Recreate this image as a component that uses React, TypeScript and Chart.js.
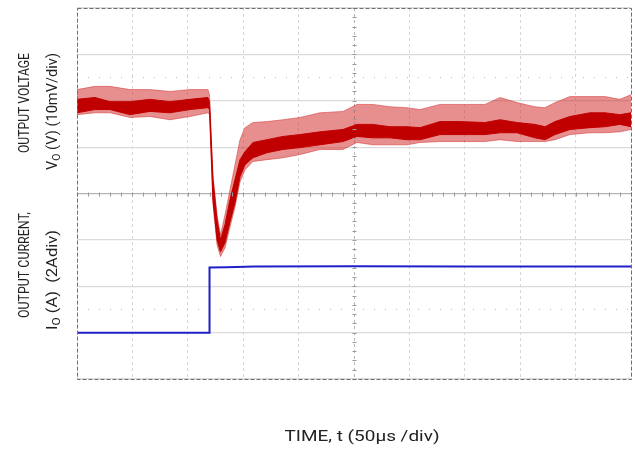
import React, { useEffect, useRef } from "react";
import { Chart, registerables } from "chart.js";

Chart.register(...registerables);

// Time axis: 50 µs/div, 10 divisions
const timeUs = [0, 16.2, 29.8, 47.8, 65.8, 83.9, 101.9, 118.2, 119.6, 122.7, 126.4, 129.5, 133.6, 138.1, 142.6, 147.1, 151.6, 158.8, 171.5, 185.9, 201.3, 219.3, 240.1, 252.7, 267.1, 282.5, 297.8, 309.6, 327.6, 345.7, 368.2, 381.8, 397.1, 413.3, 422.4, 431.4, 444.9, 462.9, 476.5, 490.0, 500];
// Output voltage deviation (mV), 10 mV/div: ripple envelope and dense core
const voltUpper = [2.4, 3.1, 3.1, 2.4, 2.4, 2.0, 2.4, 2.4, 1.3, -15.9, -24.6, -28.9, -24.6, -19.2, -13.8, -8.4, -5.8, -4.7, -4.5, -4.1, -3.6, -2.6, -2.3, -0.8, -0.8, -1.3, -1.5, -1.9, -0.8, -0.8, -0.8, 0.7, -0.4, -1.3, -1.5, -0.4, 0.9, 0.9, 0.9, 0.3, 1.3];
const voltCoreTop = [0.3, 0.7, -0.2, -0.2, 0.3, -0.2, 0.3, 0.7, -0.2, -17.0, -25.7, -30.0, -26.7, -21.3, -17.0, -12.7, -11.0, -9.0, -8.4, -7.7, -7.3, -6.7, -6.2, -5.1, -5.1, -5.6, -5.6, -5.8, -4.5, -4.5, -4.7, -4.1, -4.7, -5.1, -5.6, -4.5, -3.4, -2.6, -2.6, -3.0, -2.6];
const voltCoreBottom = [-2.6, -1.9, -1.9, -3.0, -2.3, -2.6, -1.9, -1.5, -1.9, -21.3, -30.0, -32.6, -30.6, -26.1, -22.0, -16.4, -13.8, -12.3, -11.2, -10.5, -10.1, -9.5, -8.8, -7.7, -8.0, -8.0, -8.4, -8.4, -7.3, -7.3, -7.3, -6.9, -6.9, -8.0, -8.4, -7.3, -6.2, -5.8, -5.6, -5.1, -5.6];
const voltLower = [-3.0, -2.6, -2.6, -3.6, -3.4, -4.1, -3.4, -2.6, -3.0, -22.4, -31.1, -33.6, -31.7, -27.2, -22.9, -17.5, -14.9, -13.1, -12.7, -12.3, -11.6, -10.5, -10.5, -9.0, -9.5, -9.5, -9.5, -9.0, -8.8, -8.8, -8.8, -8.4, -8.8, -8.8, -8.8, -8.4, -7.3, -6.9, -6.9, -6.7, -6.2];

// Output current (A), 2 A/div
const currentTimeUs = [0, 60, 119.5, 119.6, 135, 160, 250, 350, 450, 500];
const currentA = [0.0, 0.0, 0.0, 2.81, 2.82, 2.85, 2.86, 2.85, 2.85, 2.85];

// Dotted marker levels (divisions)
const markerLevels = [6.5, 1.5];

const FONT = "Roboto, 'Liberation Sans', sans-serif";

type Part = { t: string; sub?: boolean };

const drawFit = (ctx: CanvasRenderingContext2D, parts: Part[], cx: number, cy: number, width: number, size: number, rotated: boolean) => {
  ctx.save();
  ctx.translate(cx, cy);
  if (rotated) ctx.rotate(-Math.PI / 2);
  ctx.textAlign = "left";
  ctx.textBaseline = "middle";
  const subSize = Math.round(size * 0.7);
  let w = 0;
  for (const p of parts) {
    ctx.font = `${p.sub ? subSize : size}px ${FONT}`;
    w += ctx.measureText(p.t).width;
  }
  const s = width / w;
  ctx.scale(s, 1);
  let x = -w / 2;
  for (const p of parts) {
    ctx.font = `${p.sub ? subSize : size}px ${FONT}`;
    ctx.fillText(p.t, x, p.sub ? size * 0.3 : 0);
    x += ctx.measureText(p.t).width;
  }
  ctx.restore();
};

const decorPlugin = {
  id: "decor",
  afterDatasetsDraw(chart: any) {
    const { ctx, chartArea: a, scales } = chart;
    const xs = scales.x;
    const ys = scales.y;
    ctx.save();
    // minor ticks on the center axes
    ctx.strokeStyle = "#9a9a9a";
    ctx.lineWidth = 1;
    const yc = Math.round(ys.getPixelForValue(4)) + 0.5;
    for (let t = 0; t <= 500; t += 10) {
      const px = Math.round(xs.getPixelForValue(t)) + 0.5;
      ctx.beginPath();
      ctx.moveTo(px, yc - 2);
      ctx.lineTo(px, yc + 2);
      ctx.stroke();
    }
    const xc = Math.round(xs.getPixelForValue(250)) + 0.5;
    for (let d = 0; d <= 8.001; d += 0.2) {
      const py = Math.round(ys.getPixelForValue(d)) + 0.5;
      ctx.beginPath();
      ctx.moveTo(xc - 2, py);
      ctx.lineTo(xc + 2, py);
      ctx.stroke();
    }
    // dashed frame
    ctx.strokeStyle = "#6e6e6e";
    ctx.setLineDash([4, 2]);
    ctx.strokeRect(Math.round(a.left) + 0.5, Math.round(a.top) + 0.5, Math.round(a.right - a.left), Math.round(a.bottom - a.top));
    ctx.restore();
  },
  afterDraw(chart: any) {
    const { ctx } = chart;
    ctx.save();
    ctx.fillStyle = "#222";
    drawFit(ctx, [{ t: "TIME, t (50\u03bcs /div)" }], 362, 437, 155, 15, false);
    drawFit(ctx, [{ t: "OUTPUT VOLTAGE" }], 25, 103, 100, 14, true);
    drawFit(ctx, [{ t: "OUTPUT CURRENT," }], 25, 265, 106, 14, true);
    drawFit(ctx, [{ t: "V" }, { t: "O", sub: true }, { t: " (V) (10mV/div)" }], 53, 111.5, 117, 14, true);
    drawFit(ctx, [{ t: "I" }, { t: "O", sub: true }, { t: " (A)  (2Adiv)" }], 53, 280, 100, 14, true);
    ctx.restore();
  },
};

export default function App() {
  const ref = useRef<HTMLCanvasElement>(null);
  useEffect(() => {
    document.body.style.margin = "0";
    const pts = (ys: number[]) => timeUs.map((t, i) => ({ x: t, y: ys[i] }));
    const chart = new Chart(ref.current!, {
      type: "line",
      data: {
        datasets: [
          {
            data: pts(voltCoreTop),
            yAxisID: "yV",
            borderColor: "#c00000",
            backgroundColor: "#c00000",
            borderWidth: 1,
            pointRadius: 0,
            fill: "+1",
          },
          {
            data: pts(voltCoreBottom),
            yAxisID: "yV",
            borderColor: "#c00000",
            borderWidth: 1,
            pointRadius: 0,
            fill: false,
          },
          {
            data: pts(voltUpper),
            yAxisID: "yV",
            borderColor: "rgba(215,70,70,0.6)",
            backgroundColor: "rgba(212,50,50,0.55)",
            borderWidth: 1,
            pointRadius: 0,
            fill: "+1",
          },
          {
            data: pts(voltLower),
            yAxisID: "yV",
            borderColor: "rgba(215,70,70,0.6)",
            borderWidth: 1,
            pointRadius: 0,
            fill: false,
          },
          {
            data: currentTimeUs.map((t, i) => ({ x: t, y: currentA[i] })),
            yAxisID: "yI",
            borderColor: "#2020c8",
            borderWidth: 2,
            pointRadius: 0,
            fill: false,
          },
          ...markerLevels.map((lv) => ({
            data: [
              { x: 0, y: lv },
              { x: 500, y: lv },
            ],
            yAxisID: "y",
            borderColor: "#b8b8b8",
            borderWidth: 1,
            borderDash: [1, 10],
            pointRadius: 0,
            fill: false,
          })),
        ],
      },
      options: {
        animation: false,
        responsive: true,
        maintainAspectRatio: false,
        layout: { padding: { left: 77, right: 4, top: 8, bottom: 70 } },
        plugins: { legend: { display: false }, tooltip: { enabled: false } },
        scales: {
          x: {
            type: "linear",
            min: 0,
            max: 500,
            ticks: { display: false, stepSize: 50 },
            grid: {
              drawTicks: false,
              color: (c: any) => (c.tick && c.tick.value === 250 ? "#b4b4b4" : "#d6d6d6"),
            },
            border: { display: false, dash: [3, 3] },
          },
          y: {
            min: 0,
            max: 8,
            ticks: { display: false, stepSize: 1 },
            grid: {
              drawTicks: false,
              color: (c: any) => (c.tick && c.tick.value === 4 ? "#b4b4b4" : "#dadada"),
              lineWidth: 1.2,
            },
            border: { display: false },
          },
          yV: { min: -60, max: 20, display: false },
          yI: { min: -2, max: 14, display: false },
        },
      },
      plugins: [decorPlugin],
    } as any);
    return () => chart.destroy();
  }, []);
  return (
    <div style={{ position: "relative", width: 635, height: 449 }}>
      <canvas ref={ref} />
    </div>
  );
}
